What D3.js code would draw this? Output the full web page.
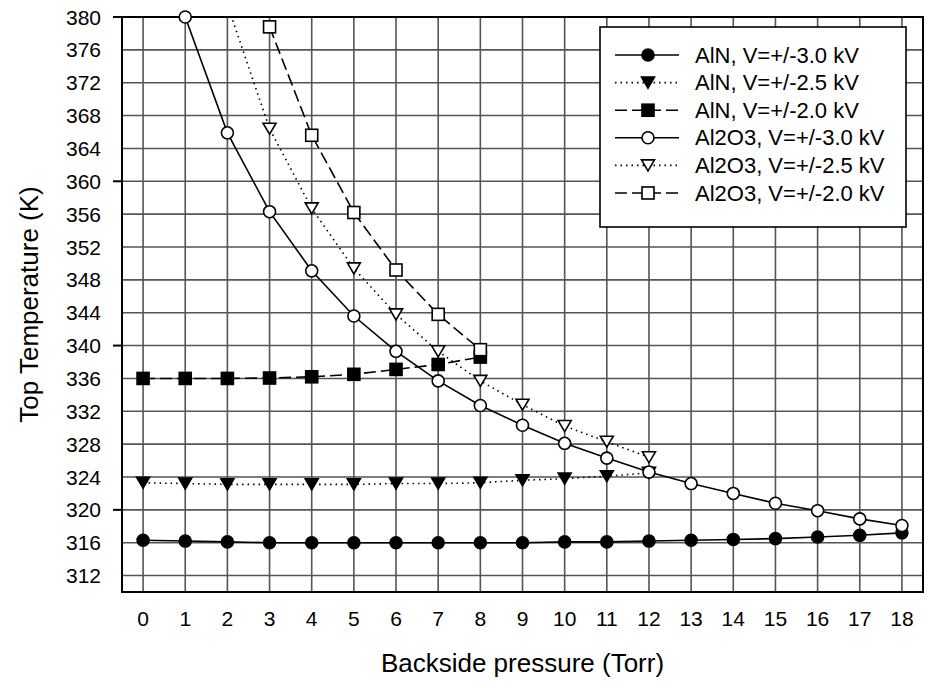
<!DOCTYPE html>
<html>
<head>
<meta charset="utf-8">
<script src="https://cdn.jsdelivr.net/npm/d3@7"></script>
<style>
  body { margin: 0; background: #fff; }
  svg { display: block; font-family: Arial, "Liberation Sans", sans-serif; }
</style>
</head>
<body>
<svg id="chart" width="927" height="681"></svg>
<script>
const pressure = d3.range(0, 19)

const alnV30 = [316.3, 316.2, 316.1, 316.0, 316.0, 316.0, 316.0, 316.0, 316.0, 316.0, 316.1, 316.1, 316.2, 316.3, 316.4, 316.5, 316.7, 316.9, 317.2]
const alnV25 = [323.3, 323.2, 323.1, 323.1, 323.1, 323.1, 323.2, 323.2, 323.3, 323.6, 323.8, 324.1, 324.5]
const alnV20 = [336.0, 336.0, 336.0, 336.05, 336.2, 336.5, 337.1, 337.7, 338.6]
const al2o3V30 = [null, 380.0, 365.9, 356.3, 349.1, 343.6, 339.3, 335.7, 332.7, 330.3, 328.1, 326.3, 324.6, 323.2, 322.0, 320.8, 319.9, 318.9, 318.1]
const al2o3V25 = [null, null, 381.5, 366.4, 356.7, 349.4, 343.8, 339.3, 335.7, 332.8, 330.2, 328.3, 326.4]
const al2o3V20 = [null, null, null, 378.8, 365.6, 356.2, 349.2, 343.8, 339.5]

const seriesNames = ["AlN, V=+/-3.0 kV", "AlN, V=+/-2.5 kV", "AlN, V=+/-2.0 kV",
  "Al2O3, V=+/-3.0 kV", "Al2O3, V=+/-2.5 kV", "Al2O3, V=+/-2.0 kV"]
const seriesValues = [alnV30, alnV25, alnV20, al2o3V30, al2o3V25, al2o3V20]
const symbols = ["circle", "triangle", "square", "circle", "triangle", "square"]
const filled = [true, true, true, false, false, false]
const dashes = [null, "1.5,4", "12,5", null, "1.5,4", "12,5"]

const yTicks = d3.range(312, 381, 4)
const yMajor = [320, 340, 360, 380]

const svg = d3.select("#chart")
const plotLeft = 122, plotRight = 923, plotTop = 17, plotBottom = 592

const x = d3.scaleLinear().domain([-0.5, 18.5]).range([plotLeft, plotRight])
const y = d3.scaleLinear().domain([310, 380]).range([plotBottom, plotTop])

// grid
svg.append("g")
  .selectAll("line")
  .data(pressure)
  .join("line")
  .attr("x1", d => x(d)).attr("x2", d => x(d))
  .attr("y1", plotTop).attr("y2", plotBottom)
  .attr("stroke", "#555").attr("stroke-width", 1.6)

svg.append("g")
  .selectAll("line")
  .data(yTicks)
  .join("line")
  .attr("x1", plotLeft).attr("x2", plotRight)
  .attr("y1", d => y(d)).attr("y2", d => y(d))
  .attr("stroke", "#555").attr("stroke-width", 1.6)

// frame + major ticks
svg.append("rect")
  .attr("x", plotLeft).attr("y", plotTop)
  .attr("width", plotRight - plotLeft).attr("height", plotBottom - plotTop)
  .attr("fill", "none").attr("stroke", "#000").attr("stroke-width", 2)

svg.append("g")
  .selectAll("line")
  .data(yMajor)
  .join("line")
  .attr("x1", plotLeft - 9).attr("x2", plotLeft)
  .attr("y1", d => y(d)).attr("y2", d => y(d))
  .attr("stroke", "#000").attr("stroke-width", 2)

// tick labels
svg.append("g")
  .selectAll("text")
  .data(yTicks)
  .join("text")
  .attr("x", 101).attr("y", d => y(d))
  .attr("text-anchor", "end").attr("dominant-baseline", "central")
  .attr("font-size", 21)
  .text(d => d)

svg.append("g")
  .selectAll("text")
  .data(pressure)
  .join("text")
  .attr("x", d => x(d)).attr("y", 626)
  .attr("text-anchor", "middle")
  .attr("font-size", 21)
  .text(d => d)

svg.append("text")
  .attr("x", (plotLeft + plotRight) / 2).attr("y", 672)
  .attr("text-anchor", "middle").attr("font-size", 26)
  .text("Backside pressure (Torr)")

svg.append("text")
  .attr("transform", `translate(38,${(plotTop + plotBottom) / 2}) rotate(-90)`)
  .attr("text-anchor", "middle").attr("font-size", 26)
  .text("Top Temperature (K)")

const drawSymbol = (g, type, isFilled, cx, cy) => {
  const fill = isFilled ? "#000" : "#fff"
  if (type == "circle") {
    g.append("circle").attr("cx", cx).attr("cy", cy).attr("r", 6)
      .attr("fill", fill).attr("stroke", "#000").attr("stroke-width", 1.6)
  } else if (type == "square") {
    g.append("rect").attr("x", cx - 6).attr("y", cy - 6).attr("width", 12).attr("height", 12)
      .attr("fill", fill).attr("stroke", "#000").attr("stroke-width", 1.6)
  } else {
    g.append("path").attr("d", `M${cx - 6.5},${cy - 5.5}L${cx + 6.5},${cy - 5.5}L${cx},${cy + 5.5}Z`)
      .attr("fill", fill).attr("stroke", "#000").attr("stroke-width", 1.6).attr("stroke-linejoin", "miter")
  }
}

svg.append("clipPath").attr("id", "plotClip")
  .append("rect").attr("x", plotLeft).attr("y", plotTop)
  .attr("width", plotRight - plotLeft).attr("height", plotBottom - plotTop)

const line = d3.line()
  .defined(d => d.v != null)
  .x(d => x(d.p))
  .y(d => y(d.v))

seriesValues.forEach((values, i) => {
  const pts = values.map((v, j) => ({ p: pressure[j], v: v }))
  const g = svg.append("g")
  g.append("path")
    .datum(pts)
    .attr("clip-path", "url(#plotClip)")
    .attr("d", line)
    .attr("fill", "none").attr("stroke", "#000").attr("stroke-width", 1.6)
    .attr("stroke-dasharray", dashes[i])
  // points above the axis range are left without a symbol
  pts.filter(d => d.v != null && d.v <= 380.2)
    .forEach(d => drawSymbol(g, symbols[i], filled[i], x(d.p), y(d.v)))
})

// legend
const legend = svg.append("g")
legend.append("rect")
  .attr("x", 600).attr("y", 27).attr("width", 306).attr("height", 200)
  .attr("fill", "#fff").attr("stroke", "#000").attr("stroke-width", 1.6)

seriesNames.forEach((name, i) => {
  const ly = 55 + i * 27.6
  legend.append("line")
    .attr("x1", 615).attr("x2", 679).attr("y1", ly).attr("y2", ly)
    .attr("stroke", "#000").attr("stroke-width", 1.6)
    .attr("stroke-dasharray", dashes[i])
  drawSymbol(legend, symbols[i], filled[i], 648, ly)
  legend.append("text")
    .attr("x", 695).attr("y", ly)
    .attr("dominant-baseline", "central").attr("font-size", 22)
    .text(name)
})
</script>
</body>
</html>
